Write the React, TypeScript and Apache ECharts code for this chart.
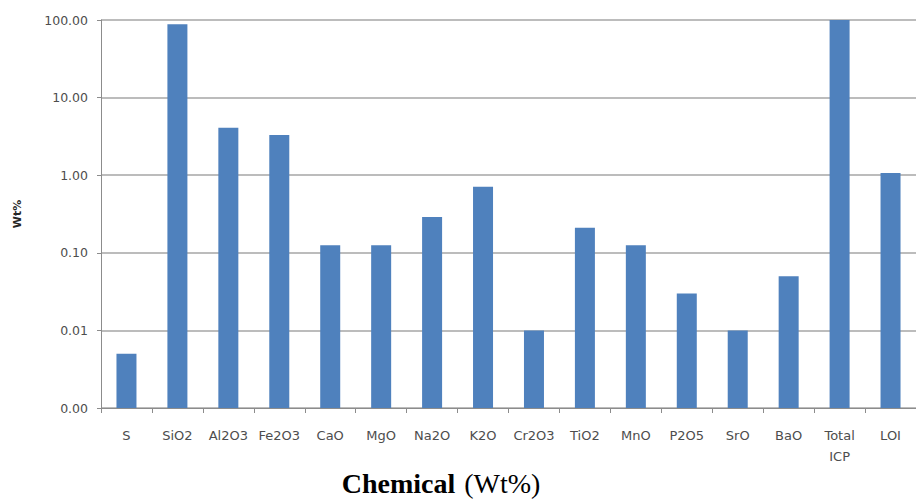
import React, { useEffect, useRef } from "react";
import * as echarts from "echarts";

const categories = ["S", "SiO2", "Al2O3", "Fe2O3", "CaO", "MgO", "Na2O", "K2O", "Cr2O3", "TiO2", "MnO", "P2O5", "SrO", "BaO", "Total\nICP", "LOI"];
const wtPercent = [0.005, 88, 4.1, 3.3, 0.125, 0.125, 0.29, 0.71, 0.01, 0.21, 0.125, 0.03, 0.01, 0.05, 99.8, 1.07];
const axisMinDecade = -3; // 0.001 shown as "0.00"
const axisMaxDecade = 2; // 100

export default function App() {
  const ref = useRef<HTMLDivElement>(null);
  useEffect(() => {
    if (!ref.current) return;
    const chart = echarts.init(ref.current, null, { renderer: "svg" });
    const logData = wtPercent.map((v) => Math.log10(v) - axisMinDecade);
    chart.setOption({
      animation: false,
      backgroundColor: "#ffffff",
      title: {
        text: "{b|Chemical} {n|(Wt%)}",
        left: 436,
        textAlign: "center",
        top: 463,
        textStyle: {
          lineHeight: 30,
          rich: {
            b: { fontFamily: "Liberation Serif", fontWeight: "bold", fontSize: 28, lineHeight: 30, color: "#000" },
            n: { fontFamily: "Liberation Serif", fontWeight: "normal", fontSize: 28, lineHeight: 30, color: "#000", padding: [0, 0, 0, 4] },
          },
        },
      },
      grid: { left: 101, top: 20, width: 820, bottom: 92, containLabel: false },
      xAxis: {
        type: "category",
        data: categories,
        axisLine: { lineStyle: { color: "#8c8c8c", width: 1 } },
        axisTick: { show: true, length: 5, lineStyle: { color: "#8c8c8c" } },
        axisLabel: { color: "#4d4d4d", fontFamily: "DejaVu Sans", fontSize: 13, margin: 17, lineHeight: 21, interval: 0 },
      },
      yAxis: {
        type: "value",
        min: 0,
        max: axisMaxDecade - axisMinDecade,
        interval: 1,
        name: "Wt%",
        nameLocation: "middle",
        nameGap: 78,
        nameRotate: 90,
        nameTextStyle: { color: "#262626", fontFamily: "DejaVu Sans", fontWeight: "bold", fontSize: 11 },
        axisLine: { show: true, lineStyle: { color: "#8c8c8c", width: 1 } },
        axisTick: { show: true, length: 4, lineStyle: { color: "#8c8c8c" } },
        axisLabel: {
          color: "#4d4d4d",
          fontFamily: "DejaVu Sans",
          fontSize: 12.5,
          margin: 13,
          formatter: (v: number) => Math.pow(10, v + axisMinDecade).toFixed(2),
        },
        splitLine: { show: true, lineStyle: { color: "#a6a6a6", width: 1.5 } },
      },
      series: [
        {
          type: "bar",
          data: logData,
          barWidth: 20,
          itemStyle: { color: "#4f81bd" },
        },
      ],
    });
    return () => chart.dispose();
  }, []);
  return <div ref={ref} style={{ position: "fixed", left: 0, top: 0, width: 916, height: 500 }} />;
}
